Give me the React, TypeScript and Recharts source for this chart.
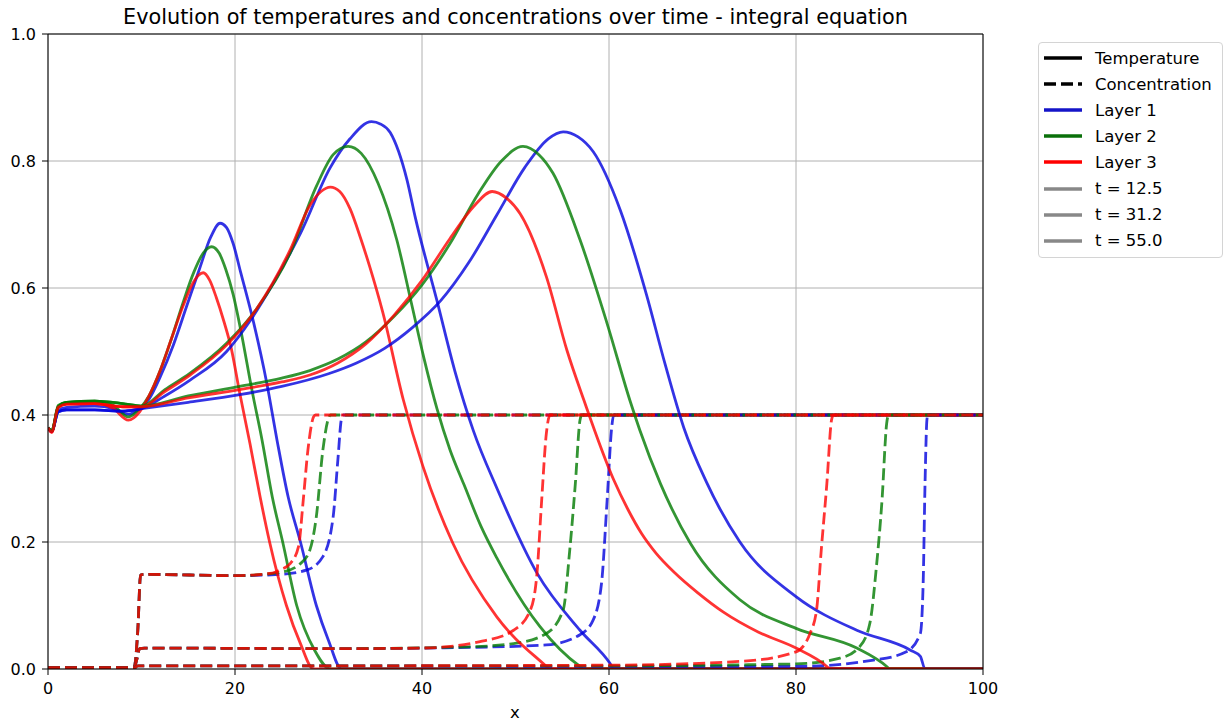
import { CartesianGrid, Line, LineChart, ReferenceLine, XAxis, YAxis } from 'recharts';

type Pt = [number, number];

// temperature, t = 12.5
const tempL1T1: Pt[] = [[0, 0.38], [0.4, 0.374], [1.1, 0.407], [2, 0.412], [5, 0.414], [7, 0.41], [8.6, 0.401], [9.8, 0.41], [10.8, 0.425], [12, 0.46], [13.4, 0.51], [14.8, 0.57], [16.2, 0.63], [17.4, 0.68], [18.4, 0.702], [19.1, 0.695], [19.8, 0.67], [20.6, 0.625], [22, 0.545], [23.4, 0.45], [24.5, 0.36], [25.7, 0.27], [27, 0.2], [28.7, 0.1], [30, 0.045], [31.4, 0], [100, 0]];
const tempL2T1: Pt[] = [[0, 0.38], [0.4, 0.375], [1.1, 0.415], [2, 0.42], [5, 0.422], [7, 0.415], [8.6, 0.397], [9.8, 0.41], [10.8, 0.43], [12, 0.47], [13.2, 0.52], [14.4, 0.575], [15.6, 0.625], [16.6, 0.655], [17.5, 0.665], [18.3, 0.655], [19, 0.63], [19.8, 0.59], [20.6, 0.535], [21.8, 0.44], [22.9, 0.36], [24, 0.27], [25.1, 0.2], [26.6, 0.1], [28.5, 0.03], [30.2, 0], [100, 0]];
const tempL3T1: Pt[] = [[0, 0.38], [0.4, 0.373], [1.1, 0.413], [2, 0.418], [5, 0.42], [7, 0.41], [8.6, 0.392], [9.8, 0.405], [10.8, 0.43], [12, 0.47], [13.2, 0.52], [14.4, 0.57], [15.4, 0.605], [16.1, 0.62], [16.6, 0.624], [17.3, 0.612], [18, 0.585], [18.8, 0.548], [19.6, 0.505], [20.5, 0.435], [21.6, 0.355], [22.7, 0.27], [23.7, 0.2], [25.5, 0.1], [27, 0.04], [28.4, 0], [100, 0]];

// temperature, t = 31.2
const tempL1T2: Pt[] = [[0, 0.38], [0.4, 0.374], [1.1, 0.405], [2, 0.408], [5, 0.408], [8, 0.406], [10, 0.41], [12.5, 0.43], [15.2, 0.455], [19.1, 0.5], [21.6, 0.548], [24, 0.605], [27, 0.686], [30.2, 0.79], [32.3, 0.835], [34.6, 0.862], [35.6, 0.858], [36.6, 0.845], [37.5, 0.815], [38.4, 0.77], [39.3, 0.71], [41.6, 0.58], [43.5, 0.47], [45.5, 0.375], [48, 0.285], [52.3, 0.151], [56.9, 0.061], [60.1, 0.009], [60.5, 0], [100, 0]];
const tempL2T2: Pt[] = [[0, 0.38], [0.4, 0.375], [1.1, 0.413], [2, 0.42], [5, 0.422], [8, 0.418], [10, 0.414], [12.5, 0.44], [15.2, 0.466], [19.1, 0.513], [22.3, 0.567], [25.9, 0.655], [28.7, 0.76], [30.5, 0.81], [32.1, 0.823], [33.5, 0.812], [35.3, 0.765], [37.3, 0.676], [38.9, 0.574], [40.2, 0.49], [41.6, 0.41], [43, 0.345], [44.5, 0.29], [46.3, 0.225], [48, 0.175], [52.6, 0.067], [56.9, 0.004], [57.3, 0], [100, 0]];
const tempL3T2: Pt[] = [[0, 0.38], [0.4, 0.373], [1.1, 0.412], [2, 0.417], [5, 0.418], [8, 0.413], [10, 0.413], [12.5, 0.437], [15.2, 0.463], [19.1, 0.51], [22.3, 0.567], [25.9, 0.66], [28, 0.73], [29.2, 0.752], [30.2, 0.759], [31.2, 0.752], [32.3, 0.725], [33.4, 0.68], [34.4, 0.634], [35.8, 0.562], [38, 0.424], [40.1, 0.319], [43.3, 0.198], [48, 0.082], [53.3, 0.004], [53.6, 0], [100, 0]];

// temperature, t = 55.0
const tempL1T3: Pt[] = [[0, 0.38], [0.4, 0.374], [1.1, 0.405], [2, 0.408], [5, 0.408], [8, 0.406], [10, 0.41], [15, 0.42], [20.5, 0.432], [25, 0.445], [30, 0.465], [33, 0.482], [36, 0.505], [39, 0.538], [42, 0.58], [45, 0.64], [48, 0.715], [51, 0.79], [53.5, 0.835], [55.1, 0.846], [56.7, 0.838], [58.3, 0.815], [61.2, 0.723], [64, 0.59], [66, 0.48], [68, 0.38], [70.4, 0.295], [74, 0.2], [80, 0.114], [86.5, 0.061], [92.2, 0.03], [93.3, 0.02], [93.8, 0], [100, 0]];
const tempL2T3: Pt[] = [[0, 0.38], [0.4, 0.375], [1.1, 0.413], [2, 0.42], [5, 0.422], [8, 0.418], [10, 0.414], [15, 0.43], [20.5, 0.445], [25, 0.458], [28, 0.47], [31, 0.488], [34, 0.515], [37, 0.555], [40, 0.605], [43, 0.67], [46, 0.748], [48.5, 0.8], [50.8, 0.823], [52.5, 0.81], [54, 0.781], [56.9, 0.676], [59.8, 0.544], [62.3, 0.42], [63.3, 0.376], [65.5, 0.292], [68.7, 0.198], [74, 0.109], [80, 0.064], [86.5, 0.033], [89.7, 0.004], [90, 0], [100, 0]];
const tempL3T3: Pt[] = [[0, 0.38], [0.4, 0.373], [1.1, 0.412], [2, 0.417], [5, 0.418], [8, 0.413], [10, 0.413], [15, 0.427], [20.5, 0.44], [25, 0.452], [28, 0.463], [31, 0.482], [34, 0.512], [37, 0.557], [40, 0.612], [43, 0.678], [45.5, 0.728], [47.5, 0.752], [49, 0.742], [50.5, 0.717], [53.3, 0.618], [55.5, 0.502], [57.3, 0.424], [60.5, 0.298], [62, 0.252], [63.5, 0.213], [65, 0.183], [67, 0.152], [69.5, 0.12], [72.2, 0.09], [76, 0.058], [80, 0.033], [83.3, 0.004], [83.6, 0], [100, 0]];

// concentration, t = 12.5
const concL1T1: Pt[] = [[0, 0.002], [9.2, 0.002], [9.6, 0.06], [9.9, 0.148], [10.3, 0.149], [20, 0.147], [24.8, 0.149], [27.7, 0.156], [29.4, 0.177], [30.5, 0.24], [31, 0.329], [31.4, 0.395], [31.6, 0.4], [100, 0.4]];
const concL2T1: Pt[] = [[0, 0.002], [9.2, 0.002], [9.6, 0.06], [9.9, 0.148], [10.3, 0.149], [20, 0.147], [24.8, 0.152], [27, 0.166], [28, 0.187], [28.7, 0.24], [29.4, 0.345], [30, 0.395], [30.2, 0.4], [100, 0.4]];
const concL3T1: Pt[] = [[0, 0.002], [9.2, 0.002], [9.6, 0.06], [9.9, 0.148], [10.3, 0.149], [20, 0.147], [24, 0.151], [24.8, 0.156], [25.9, 0.166], [26.8, 0.193], [27.3, 0.266], [27.8, 0.345], [28.4, 0.397], [28.6, 0.4], [100, 0.4]];

// concentration, t = 31.2
const concL1T2: Pt[] = [[0, 0.002], [9.2, 0.002], [9.5, 0.015], [9.8, 0.032], [10.3, 0.033], [30, 0.032], [45, 0.034], [53.3, 0.038], [56.9, 0.054], [58.3, 0.077], [59.2, 0.135], [59.8, 0.266], [60.3, 0.382], [60.5, 0.4], [100, 0.4]];
const concL2T2: Pt[] = [[0, 0.002], [9.2, 0.002], [9.5, 0.015], [9.8, 0.032], [10.3, 0.033], [30, 0.032], [45, 0.035], [49.8, 0.04], [53.3, 0.056], [55.1, 0.093], [55.8, 0.187], [56.4, 0.292], [56.9, 0.392], [57.1, 0.4], [100, 0.4]];
const concL3T2: Pt[] = [[0, 0.002], [9.2, 0.002], [9.5, 0.015], [9.8, 0.032], [10.3, 0.033], [30, 0.032], [40, 0.033], [46.2, 0.043], [49.8, 0.061], [51.6, 0.093], [52.3, 0.151], [52.8, 0.266], [53.3, 0.371], [53.7, 0.4], [100, 0.4]];

// concentration, t = 55.0
const concL1T3: Pt[] = [[0, 0.001], [9.2, 0.001], [9.6, 0.005], [30, 0.005], [60, 0.004], [80, 0.004], [88.3, 0.014], [91.8, 0.027], [93.3, 0.056], [93.6, 0.135], [93.8, 0.292], [94, 0.392], [94.1, 0.4], [100, 0.4]];
const concL2T3: Pt[] = [[0, 0.001], [9.2, 0.001], [9.6, 0.005], [30, 0.005], [60, 0.005], [80, 0.008], [84.7, 0.017], [86.8, 0.035], [87.9, 0.072], [88.6, 0.161], [89.2, 0.266], [89.7, 0.387], [89.9, 0.4], [100, 0.4]];
const concL3T3: Pt[] = [[0, 0.001], [9.2, 0.001], [9.6, 0.005], [30, 0.005], [60, 0.006], [74, 0.012], [80, 0.027], [81.5, 0.056], [82.2, 0.093], [82.7, 0.187], [83.3, 0.292], [83.8, 0.392], [84, 0.4], [100, 0.4]];

const xTicks = [0, 20, 40, 60, 80, 100];
const yTicks = [0, 0.2, 0.4, 0.6, 0.8, 1.0];

const layerColors = ['#0000dd', '#007a00', '#ff0000'];
const legendItems = [
    { label: 'Temperature', color: '#000', dash: false },
    { label: 'Concentration', color: '#000', dash: true },
    { label: 'Layer 1', color: '#1414c8', dash: false },
    { label: 'Layer 2', color: '#0a700a', dash: false },
    { label: 'Layer 3', color: '#ff0000', dash: false },
    { label: 't = 12.5', color: '#888', dash: false },
    { label: 't = 31.2', color: '#888', dash: false },
    { label: 't = 55.0', color: '#888', dash: false },
];

const series = [
    { id: 'T1L1', data: tempL1T1, layer: 0, dashed: false },
    { id: 'C1L1', data: concL1T1, layer: 0, dashed: true },
    { id: 'T1L2', data: tempL2T1, layer: 1, dashed: false },
    { id: 'C1L2', data: concL2T1, layer: 1, dashed: true },
    { id: 'T1L3', data: tempL3T1, layer: 2, dashed: false },
    { id: 'C1L3', data: concL3T1, layer: 2, dashed: true },
    { id: 'T2L1', data: tempL1T2, layer: 0, dashed: false },
    { id: 'C2L1', data: concL1T2, layer: 0, dashed: true },
    { id: 'T2L2', data: tempL2T2, layer: 1, dashed: false },
    { id: 'C2L2', data: concL2T2, layer: 1, dashed: true },
    { id: 'T2L3', data: tempL3T2, layer: 2, dashed: false },
    { id: 'C2L3', data: concL3T2, layer: 2, dashed: true },
    { id: 'T3L1', data: tempL1T3, layer: 0, dashed: false },
    { id: 'C3L1', data: concL1T3, layer: 0, dashed: true },
    { id: 'T3L2', data: tempL2T3, layer: 1, dashed: false },
    { id: 'C3L2', data: concL2T3, layer: 1, dashed: true },
    { id: 'T3L3', data: tempL3T3, layer: 2, dashed: false },
    { id: 'C3L3', data: concL3T3, layer: 2, dashed: true },
];

const font = '"DejaVu Sans", sans-serif';

export default function App() {
    return (
        <div style={{ position: 'absolute', left: 0, top: 0, width: 1231, height: 726, background: '#fff', fontFamily: font }}>
            <div style={{ position: 'absolute', left: 48, width: 935, top: 5, textAlign: 'center', fontSize: 20.8, color: '#000' }}>
                Evolution of temperatures and concentrations over time - integral equation
            </div>
            <LineChart width={1231} height={726} margin={{ top: 34, right: 248, bottom: 27, left: 0 }}>
                <CartesianGrid stroke="#b0b0b0" strokeWidth={1} />
                <XAxis
                    dataKey="x"
                    type="number"
                    domain={[0, 100]}
                    ticks={xTicks}
                    allowDataOverflow
                    height={30}
                    stroke="#000"
                    tickSize={6}
                    tickMargin={8}
                    tick={{ fill: '#000', fontSize: 16, fontFamily: font }}
                />
                <YAxis
                    type="number"
                    domain={[0, 1]}
                    ticks={yTicks}
                    allowDataOverflow
                    width={48}
                    stroke="#000"
                    tickSize={6}
                    tickMargin={6}
                    tickFormatter={(v: number) => v.toFixed(1)}
                    tick={{ fill: '#000', fontSize: 16, fontFamily: font }}
                />
                {series.map((s) => (
                    <Line
                        key={s.id}
                        data={s.data.map(([x, y]) => ({ x, y }))}
                        dataKey="y"
                        type="monotone"
                        stroke={layerColors[s.layer]}
                        strokeOpacity={0.8}
                        strokeWidth={2.8}
                        strokeDasharray={s.dashed ? '12 5' : undefined}
                        dot={false}
                        activeDot={false}
                        isAnimationActive={false}
                    />
                ))}
                <ReferenceLine y={1} stroke="#000" strokeWidth={1} />
                <ReferenceLine x={100} stroke="#000" strokeWidth={1} />
            </LineChart>
            <div style={{ position: 'absolute', left: 510, top: 703, fontSize: 16.5, color: '#000' }}>x</div>
            <div
                style={{
                    position: 'absolute',
                    left: 1038,
                    top: 42,
                    width: 185,
                    height: 216,
                    border: '1px solid #d4d4d4',
                    borderRadius: 4,
                    background: '#fff',
                    boxSizing: 'border-box',
                    paddingTop: 2,
                }}
            >
                {legendItems.map((it) => (
                    <div key={it.label} style={{ display: 'flex', alignItems: 'center', height: 26.1, fontSize: 16.5, color: '#000' }}>
                        <svg width={51} height={10} style={{ marginLeft: 5 }}>
                            <line
                                x1={0}
                                y1={5}
                                x2={38}
                                y2={5}
                                stroke={it.color}
                                strokeWidth={3.3}
                                strokeDasharray={it.dash ? '12 5' : undefined}
                            />
                        </svg>
                        <span>{it.label}</span>
                    </div>
                ))}
            </div>
        </div>
    );
}
